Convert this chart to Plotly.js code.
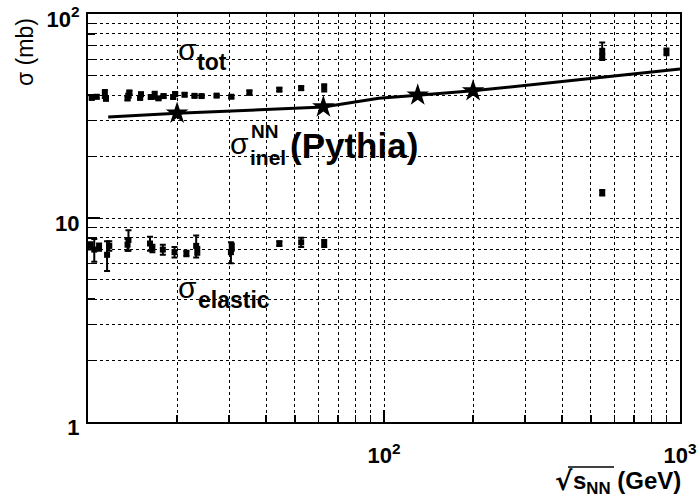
<!DOCTYPE html>
<html><head><meta charset="utf-8">
<script src="https://cdn.plot.ly/plotly-3.0.1.min.js"></script>
<style>html,body{margin:0;padding:0;background:#fff}</style>
</head><body><div id="chart" style="width:699px;height:497px"></div>
<script>
// ---- data ----
const totSqrtS = [10.3, 10.7, 11.4, 11.5, 13.6, 13.7, 13.8, 15.0, 15.1, 16.3, 16.8, 17.3, 18.0, 19.4, 19.7, 21.2, 22.9, 24.2, 27.2, 30.5, 35.1, 44.3, 52.5, 62.8, 546, 546, 900];
const totSigma = [38.8, 39.3, 40.6, 38.4, 38.6, 39.8, 41.2, 38.8, 40.4, 39.2, 40.0, 38.6, 39.6, 39.2, 40.5, 40.2, 39.7, 39.6, 39.8, 39.3, 41.2, 42.6, 43.3, 43.5, 62.0, 66.0, 65.2];
const totErr   = [0.6, 0.8, 1.8, 0.6, 0.8, 0.8, 0.8, 0.7, 0.8, 0.7, 1.6, 0.6, 0.7, 0.7, 0.8, 0.7, 0.6, 0.5, 0.5, 0.6, 1.0, 0.8, 0.9, 1.8, 1.5, 6.5, 2.5];

const elSqrtS = [10.2, 10.5, 10.9, 11.6, 11.8, 13.6, 13.7, 16.2, 16.5, 17.9, 19.6, 21.5, 23.2, 23.4, 30.4, 30.6, 44.3, 52.5, 62.8, 546];
const elSigma = [7.3, 7.0, 7.2, 6.6, 7.3, 7.4, 7.8, 7.5, 7.1, 7.0, 6.8, 6.7, 7.3, 6.9, 6.8, 7.2, 7.5, 7.6, 7.5, 13.3];
const elErr   = [0.3, 0.9, 0.3, 1.1, 0.4, 0.5, 0.9, 0.6, 0.3, 0.4, 0.4, 0.2, 0.9, 0.3, 0.8, 0.3, 0.2, 0.4, 0.3, 0.4];

const pythiaSqrtS = [20, 62.4, 130, 200];
const pythiaSigma = [32.6, 35.0, 40.0, 42.0];
const pythiaCurveSqrtS = [11.7, 20, 62.4, 96, 130, 200, 546, 1000];
const pythiaCurveSigma = [31.3, 32.6, 35.0, 38.6, 40.0, 42.0, 49.0, 53.8];

const xMajorTicks  = [10, 100, 1000];
const xMajorLabels = ['', '10<sup>2</sup>', '10<sup>3</sup>'];
const xMinorTicks  = [20, 30, 40, 50, 60, 70, 80, 90, 200, 300, 400, 500, 600, 700, 800, 900];
const yMajorTicks  = [1, 10, 100];
const yMajorLabels = ['1', '10', '10<sup>2</sup>'];
const yMinorTicks  = [2, 3, 4, 5, 6, 7, 8, 9, 20, 30, 40, 50, 60, 70, 80, 90];

// ---- layout helpers ----
const W = 699, H = 497, L = 88, R = 19, T = 14, B = 75;
const pw = W - L - R, ph = H - T - B;
const px = x => (x - L) / pw;
const py = y => (H - B - y) / ph;

const sans = 'Liberation Sans, Arial, sans-serif';

function ann(text, x, y, size, opts) {
  return Object.assign({
    text: text, xref: 'paper', yref: 'paper', x: px(x), y: py(y),
    xanchor: 'left', yanchor: 'middle', showarrow: false,
    font: {family: sans, size: size, color: '#000'}
  }, opts || {});
}

const errStyle = {type: 'data', visible: true, color: '#000', thickness: 2, width: 3};

const traces = [
  {x: totSqrtS, y: totSigma, type: 'scatter', mode: 'markers',
   marker: {symbol: 'square', size: 6, color: '#000'},
   error_y: Object.assign({array: totErr}, errStyle), hoverinfo: 'skip'},
  {x: elSqrtS, y: elSigma, type: 'scatter', mode: 'markers',
   marker: {symbol: 'square', size: 6, color: '#000'},
   error_y: Object.assign({array: elErr}, errStyle), hoverinfo: 'skip'},
  {x: pythiaCurveSqrtS, y: pythiaCurveSigma, type: 'scatter', mode: 'lines',
   line: {color: '#000', width: 3}, hoverinfo: 'skip'},
  {x: pythiaSqrtS, y: pythiaSigma, type: 'scatter', mode: 'markers',
   marker: {symbol: 'star', size: 17, color: '#000'}, hoverinfo: 'skip'}
];

const gridCommon = {showgrid: true, gridcolor: '#000', griddash: 'dot', gridwidth: 1};

const layout = {
  width: W, height: H,
  margin: {l: L, r: R, t: T, b: B},
  paper_bgcolor: '#fff', plot_bgcolor: '#fff',
  showlegend: false,
  xaxis: Object.assign({
    type: 'log', range: [1, 3], tickmode: 'array', tickvals: xMajorTicks, ticktext: xMajorLabels,
    ticks: 'inside', ticklen: 12, tickwidth: 1.5, tickcolor: '#000',
    showline: true, linecolor: '#000', linewidth: 2, mirror: true, zeroline: false,
    tickfont: {family: sans, size: 22, weight: 'bold', color: '#000'},
    ticklabelstandoff: 13, ticklabeloverflow: 'allow',
    minor: Object.assign({tickmode: 'array', tickvals: xMinorTicks, ticks: 'inside', ticklen: 7, tickcolor: '#000'}, gridCommon)
  }, gridCommon),
  yaxis: Object.assign({
    type: 'log', range: [0, 2], tickmode: 'array', tickvals: yMajorTicks, ticktext: yMajorLabels,
    ticks: 'inside', ticklen: 12, tickwidth: 1.5, tickcolor: '#000',
    showline: true, linecolor: '#000', linewidth: 2, mirror: true, zeroline: false,
    tickfont: {family: sans, size: 22, weight: 'bold', color: '#000'},
    ticklabelstandoff: 2, ticklabelshift: 5, ticklabeloverflow: 'allow',
    minor: Object.assign({tickmode: 'array', tickvals: yMinorTicks, ticks: 'inside', ticklen: 7, tickcolor: '#000'}, gridCommon)
  }, gridCommon),
  annotations: [
    // sigma_tot
    ann('σ', 176, 49, 30),
    ann('<b>tot</b>', 195, 62, 23),
    // sigma_inel^NN (Pythia)
    ann('σ', 228, 143, 30),
    ann('<b>NN</b>', 249, 131, 19),
    ann('<b>inel</b>', 248, 157, 21),
    ann('<b>(Pythia)</b>', 288, 146, 35),
    // sigma_elastic
    ann('σ', 176, 287, 30),
    ann('<b>elastic</b>', 196, 300, 23),
    // y axis title
    ann('σ (mb)', 25, 52, 23, {textangle: -90, xanchor: 'center', yanchor: 'middle'}),
    // x axis title
    ann('<b>√</b>', 553, 481, 26, {font: {family: 'DejaVu Sans, sans-serif', size: 26, color: '#000'}}),
    ann('<b>s<sub>NN</sub> (GeV)</b>', 571, 483, 24)
  ],
  shapes: [
    {type: 'line', xref: 'paper', yref: 'paper', x0: px(568), x1: px(614), y0: py(467), y1: py(467),
     line: {color: '#000', width: 1.5}}
  ]
};

Plotly.newPlot('chart', traces, layout, {displayModeBar: false, staticPlot: true});
</script>
</body></html>
